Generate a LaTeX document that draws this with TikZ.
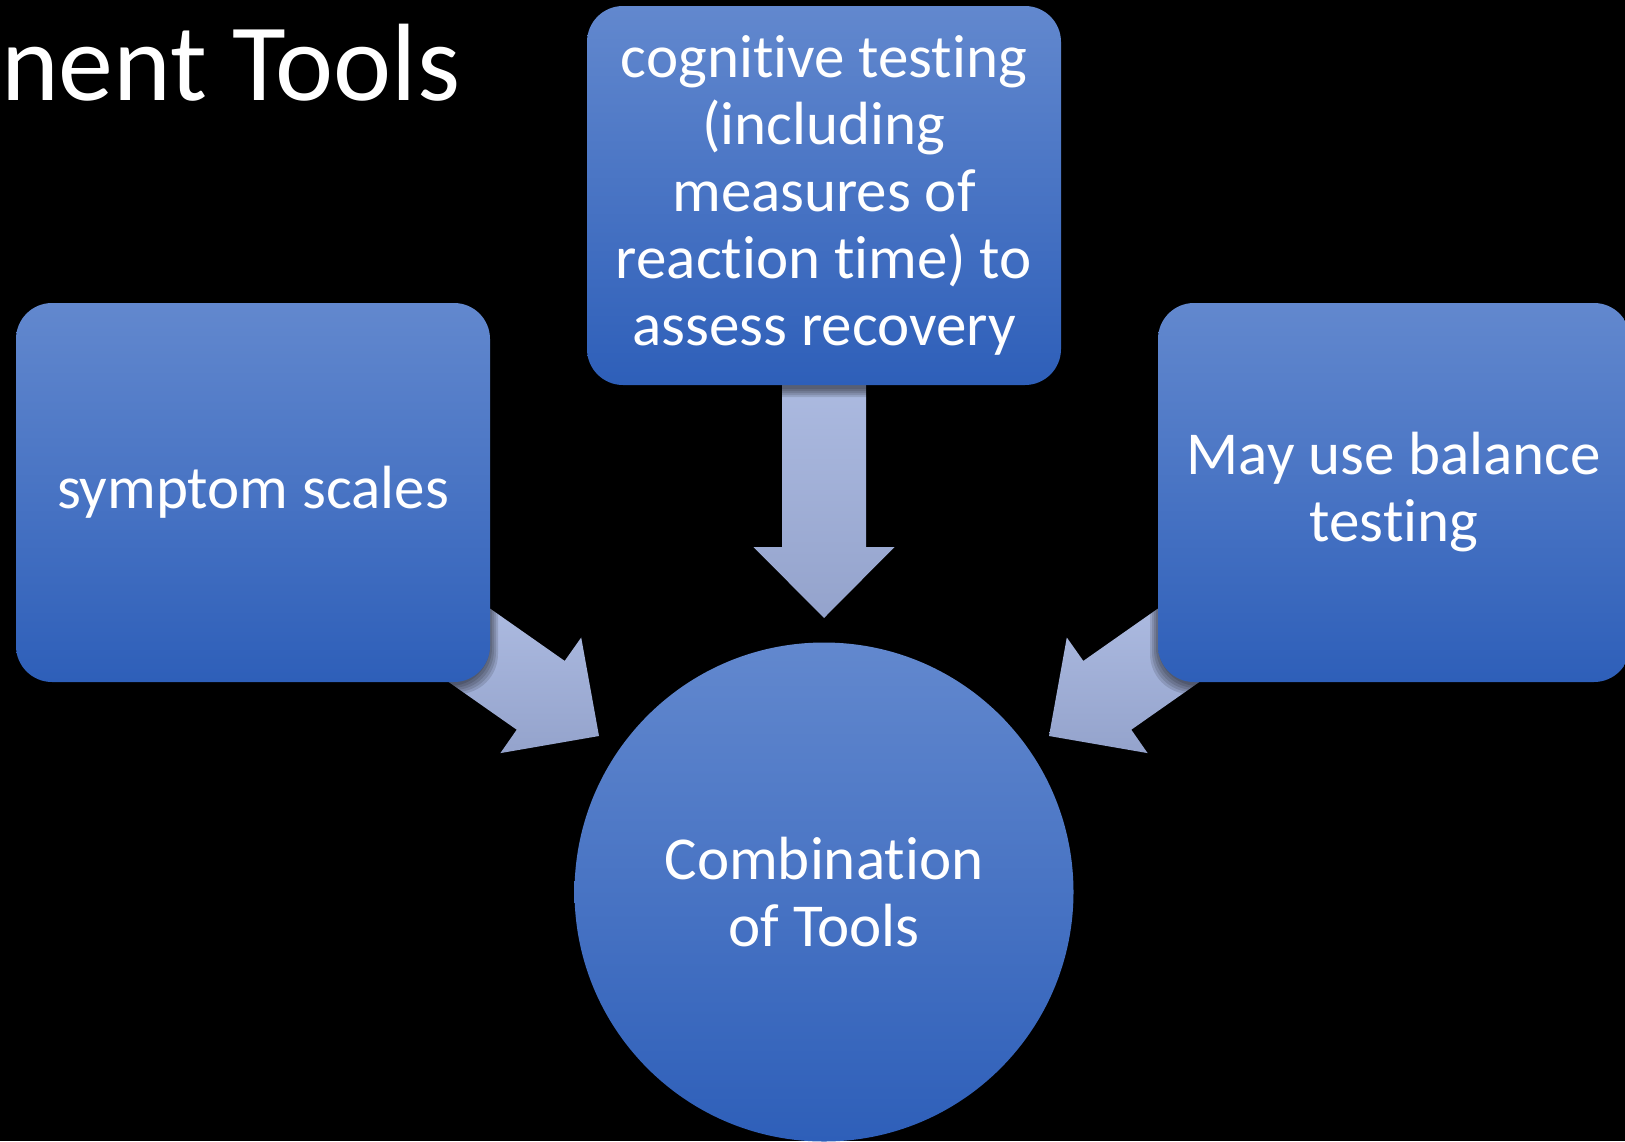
\documentclass[tikz,border=0pt]{standalone}
\usepackage{fontspec}
\setmainfont{Carlito}[RawFeature={-liga}]
\usetikzlibrary{calc}
\definecolor{boxtop}{RGB}{98,136,206}
\definecolor{boxbot}{RGB}{46,95,185}
\definecolor{arrtop}{RGB}{180,194,231}
\definecolor{arrbot}{RGB}{148,163,204}
\begin{document}
\begin{tikzpicture}[x=1pt,y=-1pt,
  boxstyle/.style={rectangle, rounded corners=36pt, top color=boxtop, bottom color=boxbot,
    minimum width=474pt, minimum height=379pt, text=white, align=center,
    font=\fontsize{61}{67}\selectfont, inner sep=0pt},
  circstyle/.style={circle, top color=boxtop, bottom color=boxbot, minimum size=499pt,
    text=white, align=center, font=\fontsize{61}{67}\selectfont, inner sep=0pt},
  blockarrow/.style={top color=arrtop, bottom color=arrbot, draw=none},
  shadowlayer/.style={fill=black, opacity=0.12, rounded corners=40pt}
]
\fill[black] (0,0) rectangle (1625,1141);
\useasboundingbox (0,0) rectangle (1625,1141);

% title
\node[anchor=base west, text=white, inner sep=0pt, font=\fontsize{110}{120}\selectfont] (title) at (1,100) {nent Tools};

% block arrows (drawn first, beneath the boxes)
\coordinate (tipD) at (824,618);
\coordinate (tipL) at (599,736);
\coordinate (tipR) at (1049,736);
\path[blockarrow] (782,300) -- (866,300) -- (866,547) -- (894.5,547) -- (tipD) -- (753.5,547) -- (782,547) -- cycle;
\path[blockarrow] (418.3,558.2) -- (564.7,660.9) -- (581.2,637.5) -- (tipL) -- (500.4,753.1) -- (516.7,729.7) -- (370.1,627) -- cycle;
\path[blockarrow] (1229.7,558.2) -- (1083.3,660.9) -- (1066.8,637.5) -- (tipR) -- (1147.6,753.1) -- (1131.3,729.7) -- (1277.9,627) -- cycle;

% soft shadows under the boxes
\foreach \e in {0,2,4,6,8}{
  \fill[shadowlayer] (16-\e,303-\e+4) rectangle (490+\e,682+\e+4);
  \fill[shadowlayer] (587-\e,6-\e+4) rectangle (1061+\e,385+\e+4);
  \fill[shadowlayer] (1158-\e,303-\e+4) rectangle (1630+\e,682+\e+4);
}

% boxes
\node[boxstyle] (sym) at (253,492.5) {symptom scales};
\node[boxstyle] (cog) at (824,195.5) {cognitive testing\\(including\\measures of\\reaction time) to\\assess recovery};
\node[boxstyle, minimum width=472pt] (bal) at (1394,492.5) {May use balance\\testing};
\node[circstyle] (comb) at (824,892) {Combination\\of Tools};
\end{tikzpicture}
\end{document}
